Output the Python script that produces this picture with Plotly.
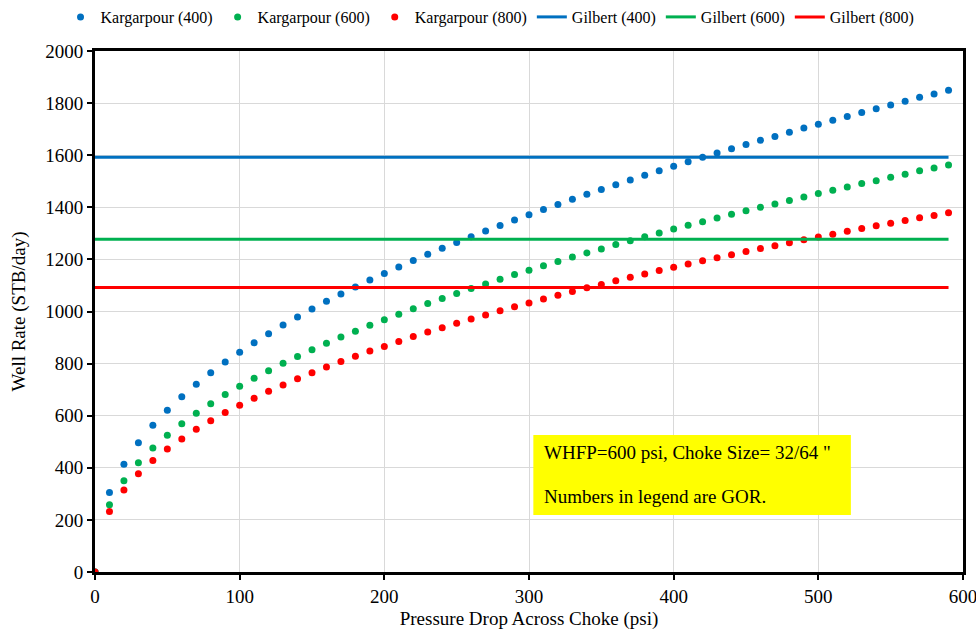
import plotly.graph_objects as go

dp = list(range(0, 600, 10))

karg_400 = [0, 305, 414, 496, 563, 621, 673, 721, 765, 806, 844, 880, 915, 948, 979, 1010, 1039, 1067,
            1094, 1121, 1146, 1171, 1196, 1220, 1243, 1265, 1287, 1309, 1330, 1351, 1371, 1392, 1411,
            1431, 1450, 1468, 1487, 1505, 1523, 1540, 1558, 1575, 1592, 1608, 1625, 1641, 1657, 1672,
            1688, 1704, 1719, 1734, 1749, 1764, 1778, 1793, 1807, 1822, 1835, 1849]
karg_600 = [0, 258, 350, 419, 476, 525, 569, 609, 646, 681, 713, 744, 773, 801, 827, 853, 878, 902,
            924, 947, 968, 989, 1011, 1031, 1050, 1069, 1088, 1106, 1124, 1142, 1158, 1176, 1192,
            1209, 1225, 1240, 1257, 1272, 1287, 1301, 1317, 1331, 1345, 1359, 1373, 1387, 1400, 1413,
            1426, 1440, 1453, 1465, 1478, 1491, 1502, 1515, 1527, 1540, 1551, 1562]
karg_800 = [0, 232, 315, 377, 428, 472, 511, 548, 581, 612, 640, 667, 694, 718, 742, 765, 787, 808,
            828, 848, 866, 885, 904, 921, 938, 955, 971, 987, 1003, 1018, 1033, 1048, 1062,
            1077, 1091, 1104, 1118, 1131, 1144, 1157, 1170, 1182, 1195, 1206, 1218, 1230, 1242, 1252,
            1264, 1275, 1286, 1297, 1308, 1319, 1329, 1339, 1349, 1360, 1369, 1379]

gilbert_x = [0, 590]
gilbert_400 = 1592
gilbert_600 = 1277
gilbert_800 = 1092

BLUE = "#0070C0"
GREEN = "#00B050"
RED = "#FF0000"
FONT = "Liberation Serif, Times New Roman, serif"

fig = go.Figure()
for name, vals, col in [("Kargarpour (400)", karg_400, BLUE),
                        ("Kargarpour (600)", karg_600, GREEN),
                        ("Kargarpour (800)", karg_800, RED)]:
    fig.add_trace(go.Scatter(x=dp, y=vals, mode="markers", name=name,
                             marker=dict(color=col, size=7)))
for name, val, col in [("Gilbert (400)", gilbert_400, BLUE),
                       ("Gilbert (600)", gilbert_600, GREEN),
                       ("Gilbert (800)", gilbert_800, RED)]:
    fig.add_trace(go.Scatter(x=gilbert_x, y=[val, val], mode="lines", name=name,
                             line=dict(color=col, width=3)))

fig.add_shape(type="rect", xref="x", yref="y", x0=303, x1=522.5, y0=219, y1=526,
              fillcolor="#FFFF00", line=dict(width=0), layer="above")
fig.add_annotation(x=309, y=458, xref="x", yref="y", xanchor="left", yanchor="middle",
                   text='WHFP=600 psi, Choke Size= 32/64 "', showarrow=False,
                   font=dict(family=FONT, size=19, color="black"))
fig.add_annotation(x=309, y=289, xref="x", yref="y", xanchor="left", yanchor="middle",
                   text="Numbers in legend are GOR.", showarrow=False,
                   font=dict(family=FONT, size=19, color="black"))

axis_common = dict(showline=True, linecolor="black", linewidth=3, mirror=True,
                   showgrid=True, gridcolor="#D9D9D9", gridwidth=1,
                   ticks="outside", ticklen=5, tickwidth=2, tickcolor="black",
                   zeroline=False, automargin=False, ticklabeloverflow="allow",
                   tickfont=dict(family=FONT, size=19, color="black"))

fig.update_xaxes(range=[0, 600], dtick=100, title=dict(text="Pressure Drop Across Choke (psi)",
                 font=dict(family=FONT, size=19, color="black")), **axis_common)
fig.update_yaxes(range=[0, 2000], dtick=200, title=dict(text="Well Rate (STB/day)",
                 font=dict(family=FONT, size=19, color="black")), **axis_common)

fig.update_layout(
    width=976, height=630,
    margin=dict(l=95, r=13, t=51, b=58),
    paper_bgcolor="white", plot_bgcolor="white",
    font=dict(family=FONT, color="black"),
    legend=dict(orientation="h", xref="container", x=0.062, xanchor="left",
                yref="container", y=1.0, yanchor="top",
                font=dict(family=FONT, size=16, color="black")),
    showlegend=True,
)

fig.write_html("out.html", config={"displayModeBar": False},
               post_script="document.body.style.margin='0';document.body.style.overflow='hidden';")
